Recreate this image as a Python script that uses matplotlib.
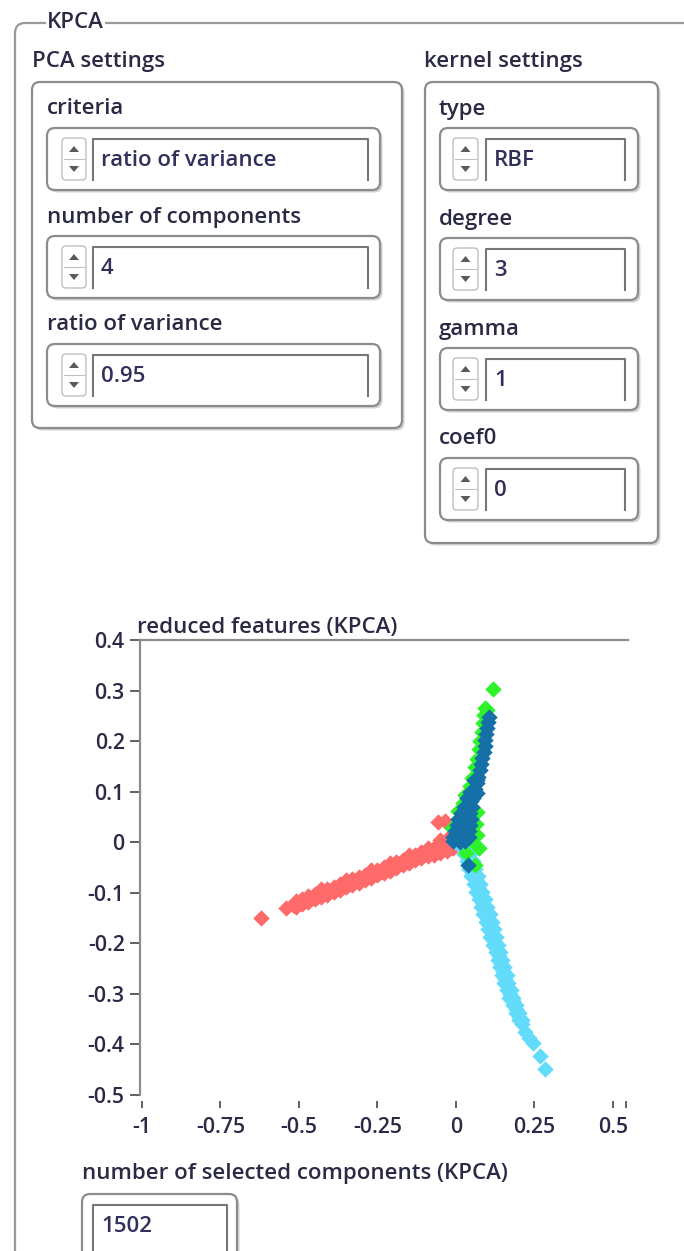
import matplotlib.pyplot as plt
from matplotlib.patches import FancyBboxPatch, Polygon

plt.rcParams['font.family'] = ['Open Sans', 'DejaVu Sans']
plt.rcParams['font.weight'] = 600
plt.rcParams['axes.unicode_minus'] = False

# ---- data ----
# red cluster: outlier, centre row, upper row, lower row, two stray points
red_x = [-0.62,
         -0.54, -0.52, -0.50, -0.48, -0.46, -0.44, -0.42, -0.40, -0.38, -0.36, -0.34, -0.32, -0.30, -0.28,
         -0.26, -0.24, -0.22, -0.20, -0.18, -0.16, -0.14, -0.12, -0.10, -0.08, -0.06, -0.04, -0.02, 0.00,
         -0.51, -0.49, -0.47, -0.45, -0.43, -0.41, -0.39, -0.37, -0.35, -0.33, -0.31, -0.29, -0.27,
         -0.25, -0.23, -0.21, -0.19, -0.17, -0.15, -0.13, -0.11, -0.09, -0.07, -0.05, -0.03, -0.01,
         -0.51, -0.49, -0.47, -0.45, -0.43, -0.41, -0.39, -0.37, -0.35, -0.33, -0.31, -0.29, -0.27,
         -0.25, -0.23, -0.21, -0.19, -0.17, -0.15, -0.13, -0.11, -0.09, -0.07, -0.05, -0.03, -0.01,
         -0.057, -0.035]
red_y = [-0.150,
         -0.130, -0.125, -0.120, -0.116, -0.111, -0.106, -0.101, -0.096, -0.091, -0.087, -0.082, -0.077, -0.072, -0.067,
         -0.063, -0.058, -0.053, -0.048, -0.043, -0.039, -0.034, -0.029, -0.024, -0.019, -0.014, -0.010, -0.005, 0.000,
         -0.117, -0.112, -0.107, -0.102, -0.093, -0.093, -0.088, -0.083, -0.074, -0.073, -0.069, -0.064, -0.055,
         -0.054, -0.049, -0.041, -0.040, -0.035, -0.026, -0.025, -0.020, -0.012, -0.011, 0.004, 0.006, 0.009,
         -0.128, -0.123, -0.118, -0.113, -0.108, -0.104, -0.099, -0.094, -0.089, -0.084, -0.080, -0.075, -0.070,
         -0.065, -0.060, -0.056, -0.051, -0.046, -0.041, -0.036, -0.031, -0.027, -0.025, -0.021, -0.017, -0.012,
         0.040, 0.042]

# light-blue cluster: centre row, left rows, right rows, tip
cyan_x = [0.020, 0.032, 0.040, 0.048, 0.055, 0.063, 0.071, 0.078, 0.086, 0.094, 0.101, 0.109, 0.115, 0.122, 0.129,
          0.136, 0.143, 0.150, 0.157, 0.164, 0.173, 0.182, 0.191, 0.200, 0.210, 0.219,
          0.026, 0.042, 0.057, 0.072, 0.087, 0.102, 0.119, 0.133, 0.147, 0.161, 0.182, 0.201,
          0.034, 0.049, 0.064, 0.080, 0.095, 0.109, 0.126, 0.140, 0.153, 0.170, 0.192,
          0.054, 0.069, 0.084, 0.100, 0.115, 0.129, 0.140, 0.154, 0.167, 0.181, 0.200,
          0.046, 0.062, 0.077, 0.092, 0.107, 0.122, 0.133, 0.147, 0.161, 0.175, 0.190, 0.209,
          0.232, 0.245, 0.268, 0.283]
cyan_y = [-0.012, -0.015, -0.030, -0.045, -0.060, -0.075, -0.090, -0.105, -0.120, -0.135, -0.150, -0.165, -0.180,
          -0.195, -0.210, -0.225, -0.240, -0.255, -0.270, -0.285, -0.300, -0.315, -0.330, -0.345, -0.360, -0.375,
          -0.0225, -0.0525, -0.0825, -0.1125, -0.1425, -0.1725, -0.2025, -0.2325, -0.2625, -0.2925, -0.3225, -0.3525,
          -0.0375, -0.0675, -0.0975, -0.1275, -0.1575, -0.1875, -0.2175, -0.2475, -0.2775, -0.3075, -0.3375,
          -0.0375, -0.0675, -0.0975, -0.1275, -0.1575, -0.1875, -0.2175, -0.2475, -0.2775, -0.3075, -0.3375,
          -0.0225, -0.0525, -0.0825, -0.1125, -0.1425, -0.1725, -0.2025, -0.2325, -0.2625, -0.2925, -0.3225, -0.3525,
          -0.388, -0.398, -0.422, -0.448]

green_x = [0.118, 0.092, 0.098, 0.088, 0.085, 0.082, 0.077, 0.072, 0.068, 0.062, 0.050, 0.044, 0.030, 0.022,
           0.006, 0.067, 0.064, 0.067, 0.073, 0.032, 0.060, -0.012, 0.050]
green_y = [0.303, 0.266, 0.262, 0.252, 0.236, 0.218, 0.200, 0.185, 0.165, 0.148, 0.128, 0.112, 0.094, 0.078,
           0.062, 0.060, 0.036, 0.015, -0.011, -0.021, -0.045, 0.028, 0.002]

# dark-blue cluster: centre row, left edge, right edge, fill, stray points
blue_x = [0.105, 0.103, 0.100, 0.097, 0.094, 0.091, 0.088, 0.084, 0.080, 0.076, 0.071, 0.066, 0.060, 0.054, 0.048,
          0.041, 0.034, 0.028, 0.022, 0.018, 0.015, 0.014,
          0.056, 0.046, 0.034, 0.026, 0.016, 0.008, 0.004, -0.004, -0.010, -0.008,
          0.066, 0.062, 0.054, 0.050, 0.046, 0.049, 0.044, 0.042, 0.042, 0.030,
          0.030, 0.030, 0.004, 0.068, 0.038]
blue_y = [0.248, 0.238, 0.226, 0.214, 0.202, 0.190, 0.178, 0.166, 0.154, 0.142, 0.130, 0.118, 0.106, 0.094, 0.082,
          0.070, 0.058, 0.046, 0.034, 0.022, 0.010, 0.000,
          0.124, 0.100, 0.088, 0.070, 0.058, 0.046, 0.034, 0.022, 0.010, 0.002,
          0.124, 0.100, 0.088, 0.070, 0.058, 0.046, 0.034, 0.022, 0.010, 0.002,
          0.030, 0.014, 0.008, 0.098, -0.045]

xtick_vals = [-1, -0.75, -0.5, -0.25, 0, 0.25, 0.5]
xtick_labels = ['-1', '-0.75', '-0.5', '-0.25', '0', '0.25', '0.5']
ytick_vals = [-0.5, -0.4, -0.3, -0.2, -0.1, 0, 0.1, 0.2, 0.3, 0.4]
ytick_labels = ['-0.5', '-0.4', '-0.3', '-0.2', '-0.1', '0', '0.1', '0.2', '0.3', '0.4']

pca_labels = ['criteria', 'number of components', 'ratio of variance']
pca_values = ['ratio of variance', '4', '0.95']
kernel_labels = ['type', 'degree', 'gamma', 'coef0']
kernel_values = ['RBF', '3', '1', '0']
selected_components = '1502'

# ---- figure ----
W, H = 684, 1251
fig = plt.figure(figsize=(W / 100, H / 100), dpi=100)
ui = fig.add_axes([0, 0, 1, 1])
ui.set_xlim(0, W)
ui.set_ylim(H, 0)
ui.axis('off')

TXT = '#2a2a45'
VAL = '#30305a'
EDGE = '#8c8c8c'
FS = 16
TFS = 15.3


def rbox(x0, y0, x1, y1, r=8, shadow=True, lw=1.6, ec=EDGE, fc='white'):
    style = 'round,pad=0,rounding_size=%g' % r
    if shadow:
        ui.add_patch(FancyBboxPatch((x0 + 2.5, y0 + 2.5), x1 - x0, y1 - y0, boxstyle=style,
                                    fc='#d2d2d2', ec='none'))
    ui.add_patch(FancyBboxPatch((x0, y0), x1 - x0, y1 - y0, boxstyle=style, fc=fc, ec=ec, lw=lw))


def spinner(x0, y0, x1, y1):
    rbox(x0, y0, x1, y1, r=4, shadow=False, lw=0.8, ec='#b0b0b0')
    ym = (y0 + y1) / 2
    cx = (x0 + x1) / 2
    ui.plot([x0 + 2, x1 - 2], [ym, ym], color='#c0c0c0', lw=0.8)
    ui.add_patch(Polygon([(cx - 5, ym - 7), (cx + 5, ym - 7), (cx, ym - 13)], closed=True, fc='#5a5a5a', ec='none'))
    ui.add_patch(Polygon([(cx - 5, ym + 7), (cx + 5, ym + 7), (cx, ym + 13)], closed=True, fc='#5a5a5a', ec='none'))


def control(x0, y0, x1, y1, value, sp=None, fx0=None, fx1=None):
    rbox(x0, y0, x1, y1)
    if sp is not None:
        spinner(sp[0], y0 + 10, sp[1], y1 - 10)
    ui.plot([fx0, fx0, fx1, fx1], [y1 - 10, y0 + 11, y0 + 11, y1 - 10], color='#767676', lw=1.5)
    ui.text(fx0 + 8, y0 + 33, value, fontsize=FS, color=VAL, va='center', ha='left')


# outer KPCA frame
rbox(15, 23, 720, 1320, r=10, shadow=False, lw=1.6, ec='#9a9a9a')
ui.text(47, 22, 'KPCA', fontsize=FS, color=TXT, va='center', ha='left',
        bbox=dict(fc='white', ec='none', pad=1))

# PCA settings
ui.text(32, 61, 'PCA settings', fontsize=FS, color=TXT, va='center', ha='left')
rbox(32, 82, 402, 428)
for i, (lab, val) in enumerate(zip(pca_labels, pca_values)):
    y0 = 128 + i * 108
    ui.text(47, y0 - 19, lab, fontsize=FS, color=TXT, va='center', ha='left')
    control(47, y0, 380, y0 + 62, val, sp=(62, 86), fx0=93, fx1=368)

# kernel settings
ui.text(424, 61, 'kernel settings', fontsize=FS, color=TXT, va='center', ha='left')
rbox(425, 82, 658, 543)
for i, (lab, val) in enumerate(zip(kernel_labels, kernel_values)):
    y0 = 128 + i * 110
    ui.text(439, y0 - 19, lab, fontsize=FS, color=TXT, va='center', ha='left')
    control(440, y0, 638, y0 + 62, val, sp=(453, 478), fx0=486, fx1=625)

# selected components indicator
ui.text(82, 1173, 'number of selected components (KPCA)', fontsize=FS, color=TXT, va='center', ha='left')
control(82, 1194, 237, 1270, selected_components, fx0=93, fx1=227)

# ---- scatter graph ----
ax = fig.add_axes([140 / W, 1 - 1095 / H, (628 - 140) / W, (1095 - 640) / H])
ax.patch.set_alpha(0)
ms = 70
ax.scatter(red_x, red_y, s=ms, marker='D', color='#fe6a6a', linewidths=0)
ax.scatter(cyan_x, cyan_y, s=ms, marker='D', color='#62dcfa', linewidths=0)
ax.scatter(green_x, green_y, s=ms, marker='D', color='#2ef22a', linewidths=0)
ax.scatter(blue_x, blue_y, s=ms, marker='D', color='#1670a8', linewidths=0)

ax.set_xlim(-1.0064, 0.548)
ax.set_ylim(-0.5, 0.4)
ax.set_xticks(xtick_vals, xtick_labels)
ax.set_yticks(ytick_vals, ytick_labels)
ax.set_xticks([0.541], minor=True)

ax.spines['right'].set_visible(False)
ax.spines['bottom'].set_position(('outward', 4))
ax.spines['bottom'].set_visible(False)
ax.spines['top'].set_color(EDGE)
ax.spines['top'].set_linewidth(1.6)
ax.spines['left'].set_color(EDGE)
ax.spines['left'].set_linewidth(1.6)
ax.tick_params(axis='y', direction='out', length=7, width=1.3, color='#555555', pad=4,
               labelsize=TFS, labelcolor=TXT)
ax.tick_params(axis='x', which='both', direction='out', length=5, width=1.3, color='#555555', pad=7,
               labelsize=TFS, labelcolor=TXT)
ax.set_title('reduced features (KPCA)', loc='left', x=-0.006, pad=5, fontsize=FS, color=TXT,
             fontweight=600)

fig.savefig('out.png', dpi=100)
